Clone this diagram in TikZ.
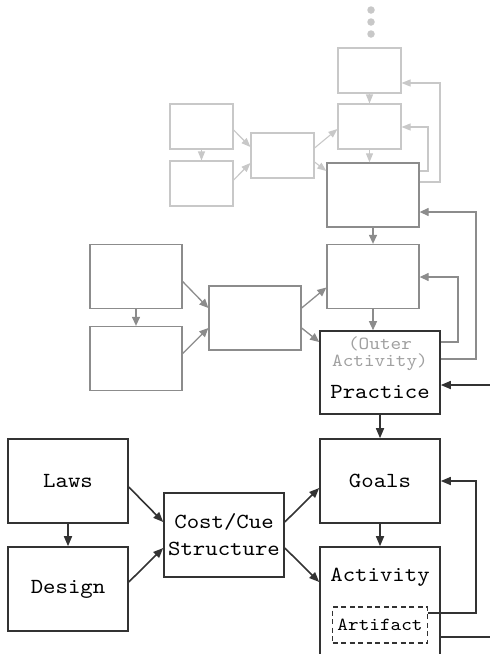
\documentclass[tikz,border=0pt]{standalone}
\usepackage{fontspec}
\setmonofont{lmmono10-regular.otf}[FakeStretch=1.1]
\usetikzlibrary{arrows.meta}
\definecolor{cA}{HTML}{333333}
\definecolor{cB}{HTML}{8C8C8C}
\definecolor{cC}{HTML}{C8C8C8}
\definecolor{cT}{HTML}{A0A0A0}
\newcommand{\bigmono}{\ttfamily\fontsize{21.5}{27}\selectfont}
\newcommand{\smallmono}{\ttfamily\fontsize{18.4}{17}\selectfont}
\begin{document}
\begin{tikzpicture}[x=1pt,y=-1pt,
  bbox/.style={draw=cA,line width=1.6pt,minimum width=120pt,minimum height=84pt,inner sep=0pt,
    font=\bigmono,align=center},
  lbl/.style={inner sep=0pt,font=\bigmono,align=center},
  lblsmall/.style={inner sep=0pt,font=\smallmono,align=center},
  mbox/.style={draw=cB,line width=1.3pt,minimum width=92pt,minimum height=64pt,inner sep=0pt},
  tbox/.style={draw=cC,line width=1.1pt,minimum width=63pt,minimum height=45pt,inner sep=0pt},
  arrA/.style={draw=cA,line width=1.6pt,-{Triangle[length=10pt,width=8pt]}},
  lineA/.style={draw=cA,line width=1.6pt},
  arrM/.style={draw=cB,line width=1.3pt,-{Triangle[length=9pt,width=8pt]}},
  arrT/.style={draw=cC,line width=1.1pt,-{Triangle[length=9pt,width=7pt]}},
  dotnode/.style={circle,fill=cC,inner sep=0pt,minimum size=7.5pt}
]
\useasboundingbox (0,0) rectangle (490,654);
\clip (0,0) rectangle (490,654);

% ---------- top level ----------
\node[dotnode] (d1) at (371,10) {};
\node[dotnode] (d2) at (371,22) {};
\node[dotnode] (d3) at (371,34) {};
\node[tbox] (tA) at (201.5,126.5) {};
\node[tbox] (tB) at (201.5,183.5) {};
\node[tbox] (tC) at (282.5,155.5) {};
\node[tbox] (tG) at (369.5,126.5) {};
\node[tbox] (tP) at (369.5,70.5) {};

% ---------- middle level ----------
\node[mbox] (mA) at (136,276.5) {};
\node[mbox] (mB) at (136,358.5) {};
\node[mbox] (mC) at (255,318) {};
\node[mbox] (mG) at (373,276.5) {};
\node[mbox] (mP) at (373,195) {};

% ---------- bottom level ----------
\node[bbox] (laws) at (68,481) {Laws};
\node[bbox] (design) at (68,589) {Design};
\node[bbox] (cost) at (224,535) {Cost/Cue\\Structure};
\node[bbox] (goals) at (380,481) {Goals};
\node[bbox,minimum height=123pt] (activity) at (380,608.5) {};
\node[lbl] (activitylbl) at (380,577) {Activity};
\node[bbox,dashed,dash pattern=on 5pt off 3.5pt,minimum width=95pt,minimum height=36pt,
  font=\smallmono] (artifact) at (380,625) {Artifact};
\node[bbox,minimum height=83pt] (practice) at (380,372.5) {};
\node[lblsmall,text=cT] (outer) at (380,353.5) {(Outer\\Activity)};
\node[lbl] (practicelbl) at (380,392) {Practice};

% top arrows
\draw[arrT] (tA) -- (tB);
\draw[arrT] ([yshift=-3.5pt]tA.east) -- ([yshift=8.5pt]tC.west);
\draw[arrT] ([yshift=3.5pt]tB.east) -- ([yshift=-7.5pt]tC.west);
\draw[arrT] ([yshift=7.5pt]tC.east) -- ([yshift=-2.5pt]tG.west);
\draw[arrT] ([yshift=-6.5pt]tC.east) -- ([yshift=24pt]mP.west);
\draw[arrT] (tG.south) -- (tG.south |- mP.north);
\draw[arrT] (tP) -- (tG);
\coordinate (fbT1) at (428,127);
\coordinate (fbT2) at (440,83);
\draw[arrT] ([yshift=24pt]mP.east) -| (fbT1) -- (tG.east |- fbT1);
\draw[arrT] ([yshift=13pt]mP.east) -| (fbT2) -- (tP.east |- fbT2);

% middle arrows
\draw[arrM] (mA) -- (mB);
\draw[arrM] ([yshift=-5pt]mA.east) -- ([yshift=10pt]mC.west);
\draw[arrM] ([yshift=5pt]mB.east) -- ([yshift=-10pt]mC.west);
\draw[arrM] ([yshift=10pt]mC.east) -- ([yshift=-11pt]mG.west);
\draw[arrM] ([yshift=-10pt]mC.east) -- ([yshift=30.5pt]practice.west);
\draw[arrM] (mG.south) -- (mG.south |- practice.north);
\draw[arrM] (mP) -- (mG);
\coordinate (fbM1) at (458,277);
\coordinate (fbM2) at (476,212);
\draw[arrM] ([yshift=30.5pt]practice.east) -| (fbM1) -- (mG.east |- fbM1);
\draw[arrM] ([yshift=13.5pt]practice.east) -| (fbM2) -- (mP.east |- fbM2);

% bottom arrows
\draw[arrA] (laws) -- (design);
\draw[arrA] ([yshift=-6pt]laws.east) -- ([yshift=13pt]cost.west);
\draw[arrA] ([yshift=7pt]design.east) -- ([yshift=-13pt]cost.west);
\draw[arrA] ([yshift=13pt]cost.east) -- ([yshift=-7pt]goals.west);
\draw[arrA] ([yshift=-13pt]cost.east) -- ([yshift=26.5pt]activity.west);
\draw[arrA] (practice) -- (goals);
\draw[arrA] (goals) -- (activity);
\coordinate (fbA) at (476,481);
\draw[arrA] ([yshift=12pt]artifact.east) -| (fbA) -- (goals.east |- fbA);
\coordinate (outR) at (490,637);
\draw[lineA] (activity.east |- outR) -- (outR);
\coordinate (inR) at (490,385);
\draw[arrA] (inR) -- (practice.east |- inR);
\end{tikzpicture}
\end{document}
